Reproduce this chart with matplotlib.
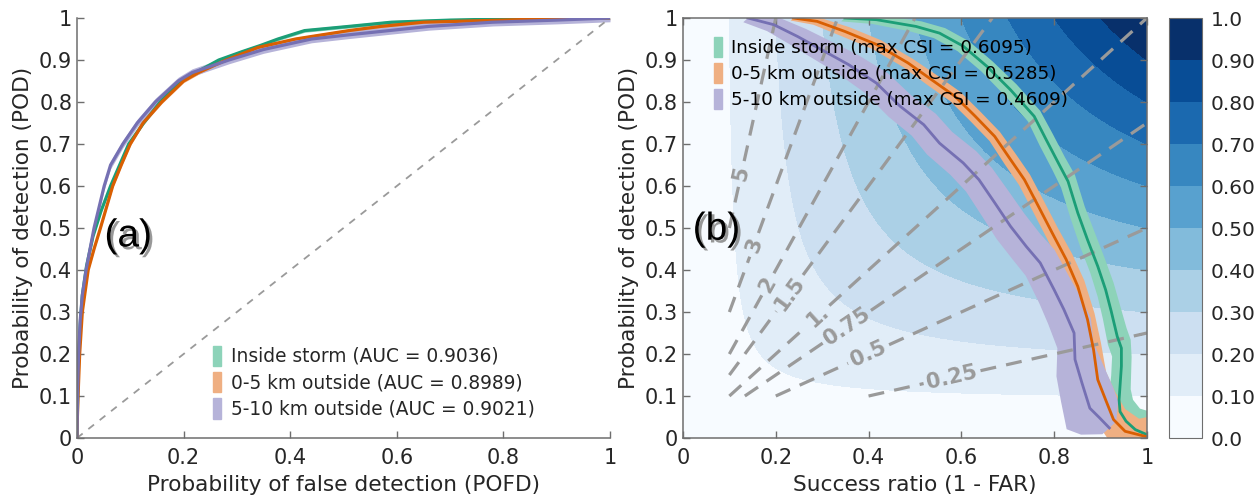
import numpy as np
import matplotlib
matplotlib.use("Agg")
import matplotlib.pyplot as plt
from matplotlib.colors import ListedColormap, BoundaryNorm
from matplotlib.patches import Patch
import matplotlib.patheffects as pe

# ---- ROC curves (panel a) ----
roc_green_pofd = [0, 0.001, 0.003, 0.006, 0.01, 0.018, 0.03, 0.045, 0.063, 0.08, 0.097, 0.125,
                  0.156, 0.193, 0.23, 0.266, 0.31, 0.345, 0.377, 0.427, 0.51, 0.59, 0.70, 0.85, 1.0]
roc_green_pod = [0, 0.08, 0.18, 0.27, 0.34, 0.41, 0.48, 0.54, 0.6, 0.65, 0.7, 0.75,
                 0.8, 0.85, 0.875, 0.9, 0.92, 0.935, 0.95, 0.97, 0.98, 0.99, 0.995, 0.999, 1.0]
roc_orange_pofd = [0, 0.0, 0.002, 0.005, 0.01, 0.021, 0.032, 0.044, 0.067, 0.083, 0.10, 0.124,
                   0.159, 0.2, 0.228, 0.28, 0.34, 0.41, 0.51, 0.57, 0.65, 0.8, 0.93, 1.0]
roc_orange_pod = [0, 0.02, 0.1, 0.2, 0.3, 0.4, 0.45, 0.5, 0.6, 0.65, 0.7, 0.75,
                  0.8, 0.85, 0.87, 0.9, 0.93, 0.95, 0.97, 0.98, 0.99, 0.995, 1.0, 1.0]
roc_purple_pofd = [0, 0.001, 0.003, 0.006, 0.01, 0.017, 0.032, 0.051, 0.063, 0.086, 0.113,
                   0.147, 0.19, 0.216, 0.285, 0.35, 0.44, 0.51, 0.66, 0.78, 0.9, 1.0]
roc_purple_pod = [0, 0.1, 0.2, 0.28, 0.34, 0.4, 0.5, 0.6, 0.65, 0.7, 0.75,
                  0.8, 0.85, 0.87, 0.9, 0.925, 0.95, 0.96, 0.98, 0.99, 0.995, 1.0]
roc_ci = [0.004, 0.004, 0.009]
auc_values = [0.9036, 0.8989, 0.9021]

# ---- performance diagram (panel b) ----
pd_green_sr = [0.349, 0.417, 0.502, 0.553, 0.604, 0.655, 0.706, 0.757, 0.783, 0.809, 0.83, 0.851,
               0.872, 0.894, 0.911, 0.923, 0.936, 0.945, 0.945, 0.94, 0.942, 0.955, 0.975, 1.0]
pd_green_pod = [1.0, 0.996, 0.98, 0.964, 0.933, 0.885, 0.829, 0.766, 0.71, 0.655, 0.611, 0.536,
                0.472, 0.409, 0.353, 0.302, 0.242, 0.214, 0.171, 0.091, 0.063, 0.04, 0.02, 0.008]
pd_green_err = [0.008, 0.01, 0.012, 0.012, 0.012, 0.012, 0.013, 0.013, 0.014, 0.014, 0.015, 0.015,
                0.016, 0.016, 0.017, 0.018, 0.02, 0.02, 0.022, 0.025, 0.028, 0.03, 0.04, 0.06]
pd_orange_sr = [0.238, 0.289, 0.349, 0.417, 0.485, 0.536, 0.587, 0.63, 0.672, 0.706, 0.736, 0.766,
                0.796, 0.826, 0.851, 0.872, 0.885, 0.894, 0.911, 0.928, 0.953, 1.0]
pd_orange_pod = [1.0, 0.992, 0.968, 0.937, 0.893, 0.853, 0.813, 0.766, 0.718, 0.663, 0.615, 0.552,
                 0.488, 0.425, 0.361, 0.282, 0.21, 0.139, 0.091, 0.044, 0.016, 0.003]
pd_orange_err = [0.006, 0.008, 0.01, 0.01, 0.01, 0.011, 0.011, 0.011, 0.011, 0.012, 0.012, 0.012,
                 0.012, 0.013, 0.014, 0.015, 0.016, 0.018, 0.02, 0.025, 0.03, 0.06]
pd_purple_sr = [0.14, 0.196, 0.247, 0.298, 0.357, 0.417, 0.468, 0.519, 0.553, 0.604, 0.638, 0.672,
                0.706, 0.74, 0.77, 0.8, 0.821, 0.843, 0.845, 0.86, 0.877, 0.898, 0.919]
pd_purple_pod = [1.0, 0.984, 0.956, 0.925, 0.889, 0.845, 0.79, 0.746, 0.702, 0.655, 0.615, 0.56,
                 0.504, 0.456, 0.417, 0.353, 0.306, 0.25, 0.187, 0.131, 0.071, 0.048, 0.024]
pd_purple_err = [0.01, 0.015, 0.018, 0.02, 0.022, 0.024, 0.025, 0.026, 0.027, 0.028, 0.028, 0.029,
                 0.03, 0.03, 0.031, 0.032, 0.034, 0.036, 0.04, 0.045, 0.05, 0.04, 0.015]
max_csi = [0.6095, 0.5285, 0.4609]

names = ["Inside storm", "0-5 km outside", "5-10 km outside"]
bias_levels = [0.25, 0.5, 0.75, 1, 1.5, 2, 3, 5]
bias_labels = {0.25: "0.25", 0.5: "0.5", 0.75: "0.75", 1: "1.", 1.5: "1.5", 2: "2", 3: "3", 5: "5"}
csi_levels = np.linspace(0, 1, 11)
cbar_labels = ["0.0", "0.10", "0.20", "0.30", "0.40", "0.50", "0.60", "0.70", "0.80", "0.90", "1.0"]

dark = ["#1b9e77", "#d95f02", "#7570b3"]
light = ["#8dd3b9", "#efaf82", "#b6b3d9"]
txt = "#262626"
spine = "#6e6e6e"

plt.rcParams["font.family"] = "DejaVu Sans"
fig = plt.figure(figsize=(12.58, 4.96), dpi=100)
ax1 = fig.add_axes([0.0612, 0.1169, 0.4237, 0.8468])
ax2 = fig.add_axes([0.5429, 0.1169, 0.3688, 0.8468])
cax = fig.add_axes([0.9293, 0.1169, 0.0262, 0.8468])

# ---- panel a ----
ax1.plot([0, 1], [0, 1], color="#9a9a9a", lw=1.3, ls=(0, (4, 4)))
rocs = [(roc_green_pofd, roc_green_pod), (roc_orange_pofd, roc_orange_pod),
        (roc_purple_pofd, roc_purple_pod)]
for i, (xx, yy) in enumerate(rocs):
    xx = np.array(xx)
    yy = np.array(yy)
    ax1.fill_between(xx, np.clip(yy - roc_ci[i], 0, 1), np.clip(yy + roc_ci[i], 0, 1),
                     color=light[i], lw=0)
    ax1.plot(xx, yy, color=dark[i], lw=2.3, solid_joinstyle="round")
ax1.set_xlim(0, 1)
ax1.set_ylim(0, 1)
ax1.set_xticks(np.arange(0, 1.01, 0.2))
ax1.set_yticks(np.arange(0, 1.01, 0.1))
ax1.xaxis.set_major_formatter(plt.FormatStrFormatter("%g"))
ax1.yaxis.set_major_formatter(plt.FormatStrFormatter("%g"))
ax1.spines["top"].set_visible(False)
ax1.spines["right"].set_visible(False)
ax1.set_xlabel("Probability of false detection (POFD)", fontsize=15.6, color=txt, labelpad=5)
ax1.set_ylabel("Probability of detection (POD)", fontsize=15.6, color=txt, labelpad=4)
h1 = [Patch(color=light[i]) for i in range(3)]
l1 = ["%s (AUC = %.4f)" % (names[i], auc_values[i]) for i in range(3)]
ax1.legend(h1, l1, loc="upper left", bbox_to_anchor=(0.255, 0.22), frameon=False,
           fontsize=13.4, handlelength=0.45, handleheight=1.3, handletextpad=0.5,
           labelspacing=0.32, borderpad=0, borderaxespad=0, labelcolor=txt)
ax1.text(0.096, 0.48, "(a)", fontsize=28, ha="center", va="center", color="black",
         family="Liberation Sans",
         path_effects=[pe.withSimplePatchShadow(offset=(2, -2), shadow_rgbFace="#7f7f7f", alpha=0.8)])

# ---- panel b ----
blues = plt.get_cmap("Blues")
cmap = ListedColormap([blues(i / 9) for i in range(10)])
norm = BoundaryNorm(csi_levels, cmap.N)
g = np.linspace(0.0005, 1, 600)
SR, POD = np.meshgrid(g, g)
CSI = 1.0 / (1.0 / SR + 1.0 / POD - 1.0)
cf = ax2.contourf(SR, POD, CSI, levels=csi_levels, cmap=cmap, norm=norm)

gb = np.linspace(0.1, 1, 400)
SRb, PODb = np.meshgrid(gb, gb)
BIAS = PODb / SRb
cs = ax2.contour(SRb, PODb, BIAS, levels=bias_levels, colors="#9a9a9a",
                 linewidths=2.3, linestyles=[(0, (5, 3.2))])
label_pos = [(0.58, 0.145), (0.40, 0.20), (0.353, 0.265), (0.29, 0.29), (0.23, 0.345),
             (0.183, 0.366), (0.153, 0.46), (0.126, 0.63)]
cl = ax2.clabel(cs, fmt=bias_labels, fontsize=15, inline=True, inline_spacing=6,
                manual=label_pos)
for t in cl:
    t.set_fontweight("bold")
    t.set_color("#9a9a9a")

pds = [(pd_green_sr, pd_green_pod, pd_green_err), (pd_orange_sr, pd_orange_pod, pd_orange_err),
       (pd_purple_sr, pd_purple_pod, pd_purple_err)]
for i, (xx, yy, ee) in enumerate(pds):
    xx = np.array(xx)
    yy = np.array(yy)
    ee = np.array(ee)
    ax2.fill(np.concatenate([xx + ee, (xx - ee)[::-1]]),
             np.concatenate([yy + ee, (yy - ee)[::-1]]), color=light[i], lw=0)
    ax2.plot(xx, yy, color=dark[i], lw=2.0, solid_joinstyle="round")

ax2.set_xlim(0, 1)
ax2.set_ylim(0, 1)
ax2.set_xticks(np.arange(0, 1.01, 0.2))
ax2.set_yticks(np.arange(0, 1.01, 0.1))
ax2.xaxis.set_major_formatter(plt.FormatStrFormatter("%g"))
ax2.yaxis.set_major_formatter(plt.FormatStrFormatter("%g"))
ax2.tick_params(top=True, right=True)
ax2.set_xlabel("Success ratio (1 - FAR)", fontsize=15.6, color=txt, labelpad=5)
ax2.set_ylabel("Probability of detection (POD)", fontsize=15.6, color=txt, labelpad=4)
h2 = [Patch(color=light[i]) for i in range(3)]
l2 = ["%s (max CSI = %.4f)" % (names[i], max_csi[i]) for i in range(3)]
ax2.legend(h2, l2, loc="upper left", bbox_to_anchor=(0.066, 0.955), frameon=False,
           fontsize=13.2, handlelength=0.45, handleheight=1.3, handletextpad=0.5,
           labelspacing=0.32, borderpad=0, borderaxespad=0, labelcolor="black")
ax2.text(0.072, 0.496, "(b)", fontsize=28, ha="center", va="center", color="black",
         family="Liberation Sans",
         path_effects=[pe.withSimplePatchShadow(offset=(2, -2), shadow_rgbFace="#7f7f7f", alpha=0.8)])

for ax in (ax1, ax2):
    ax.tick_params(direction="in", length=5, width=1, colors=spine, labelcolor=txt, labelsize=15)
    ax.tick_params(axis="x", pad=7)
    for s in ax.spines.values():
        s.set_color(spine)
        s.set_linewidth(1.1)

cb = fig.colorbar(cf, cax=cax, ticks=csi_levels)
cb.ax.set_yticklabels(cbar_labels)
cb.ax.tick_params(length=0, labelsize=14.5, labelcolor=txt, pad=6)
cb.outline.set_edgecolor(spine)

fig.savefig("out.png", dpi=100)
